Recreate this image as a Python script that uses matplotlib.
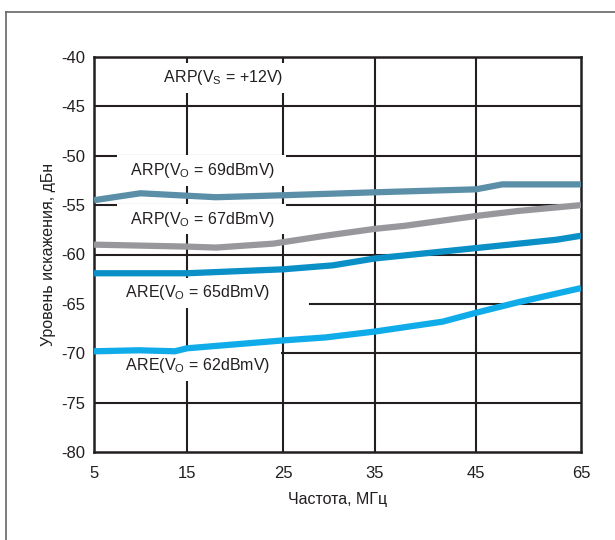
import numpy as np
import matplotlib
matplotlib.use("Agg")
import matplotlib.pyplot as plt
from matplotlib.lines import Line2D

plt.rcParams['font.family'] = ['Liberation Sans', 'DejaVu Sans']
plt.rcParams['mathtext.default'] = 'regular'

# axis ticks (x axis is not uniform in the original: 45 -> 65 squeezed in)
x_ticks = [5, 15, 25, 35, 45, 65]
x_tick_px = [94, 187, 283, 375, 476, 581]
y_ticks = [-40, -45, -50, -55, -60, -65, -70, -75, -80]

# curves (MHz, dB)
arp69_f = [5, 10, 18, 25, 35, 45, 50, 65]
arp69_db = [-54.5, -53.8, -54.2, -54.0, -53.7, -53.4, -52.9, -52.9]

arp67_f = [5, 15, 18, 24, 25, 29.6, 35, 37.9, 45, 52.9, 65]
arp67_db = [-59.0, -59.2, -59.3, -58.9, -58.75, -58.1, -57.4, -57.1, -56.1, -55.6, -55.0]

are65_f = [5, 15, 25, 30.4, 35, 45, 60.4, 65]
are65_db = [-61.9, -61.9, -61.5, -61.1, -60.4, -59.35, -58.5, -58.1]

are62_f = [5, 9.8, 13.7, 15, 25, 29.6, 35, 41.7, 45, 52.9, 65]
are62_db = [-69.8, -69.7, -69.8, -69.5, -68.7, -68.4, -67.8, -66.8, -65.9, -64.85, -63.4]

labels = ['ARP(V$_S$ = +12V)', 'ARP(V$_O$ = 69dBmV)', 'ARP(V$_O$ = 67dBmV)',
          'ARE(V$_O$ = 65dBmV)', 'ARE(V$_O$ = 62dBmV)']
label_x = [18.6, 16.5, 16.5, 16.0, 16.0]
label_y = [-42.56, -51.95, -56.9, -64.33, -71.7]


def fwd(x):
    return np.interp(x, x_ticks, x_tick_px)


def inv(p):
    return np.interp(p, x_tick_px, x_ticks)


fig = plt.figure(figsize=(6.15, 5.40), dpi=100)
ax = fig.add_axes([94 / 615, 1 - 452 / 540, (581 - 94) / 615, (452 - 57) / 540])
ax.set_xscale('function', functions=(fwd, inv))
ax.set_xlim(5, 65)
ax.set_ylim(-80, -40)

gc = '#231f20'
for v in x_ticks[1:-1]:
    ax.axvline(v, color=gc, lw=1.5, zorder=1)
for v in y_ticks[1:-1]:
    # -65 gridline is cut by the label on the left
    xmin = (310 - 94) / (581 - 94) if v == -65 else 0
    ax.axhline(v, xmin=xmin, color=gc, lw=1.5, zorder=1)

for f, db, c in [(arp69_f, arp69_db, '#5b8fa8'),
                 (arp67_f, arp67_db, '#98989c'),
                 (are65_f, are65_db, '#0a8fc6'),
                 (are62_f, are62_db, '#10acea')]:
    ax.plot(f, db, color=c, lw=4.5, solid_capstyle='butt',
            solid_joinstyle='round', zorder=3)

for t, x, y in zip(labels, label_x, label_y):
    ax.text(x, y, '  ' + t + '  ', ha='center', va='baseline', fontsize=11.5,
            color='#231f20', zorder=2,
            bbox=dict(boxstyle='square,pad=0.35', fc='white', ec='none'))

ax.set_xticks(x_ticks)
ax.set_xticklabels([str(v) for v in x_ticks])
ax.set_yticks(y_ticks)
ax.set_yticklabels([str(v) for v in y_ticks])
ax.tick_params(length=0, labelsize=12, labelcolor='#231f20')
ax.tick_params(axis='x', pad=10)
ax.tick_params(axis='y', pad=6)
for s in ax.spines.values():
    s.set_color(gc)
    s.set_linewidth(1.8)

ax.set_xlabel('Частота, МГц', fontsize=11.5, color='#231f20', labelpad=8)
ax.set_ylabel('Уровень искажения, дБн', fontsize=11.5, color='#231f20', labelpad=4)

# thin outer frame of the figure
fy = 1 - 12 / 540
fx = 6 / 615
fig.add_artist(Line2D([fx, 1], [fy, fy], transform=fig.transFigure, color='#666666', lw=1.2))
fig.add_artist(Line2D([fx, fx], [0, fy], transform=fig.transFigure, color='#666666', lw=1.2))

fig.savefig('out.png', dpi=100)
